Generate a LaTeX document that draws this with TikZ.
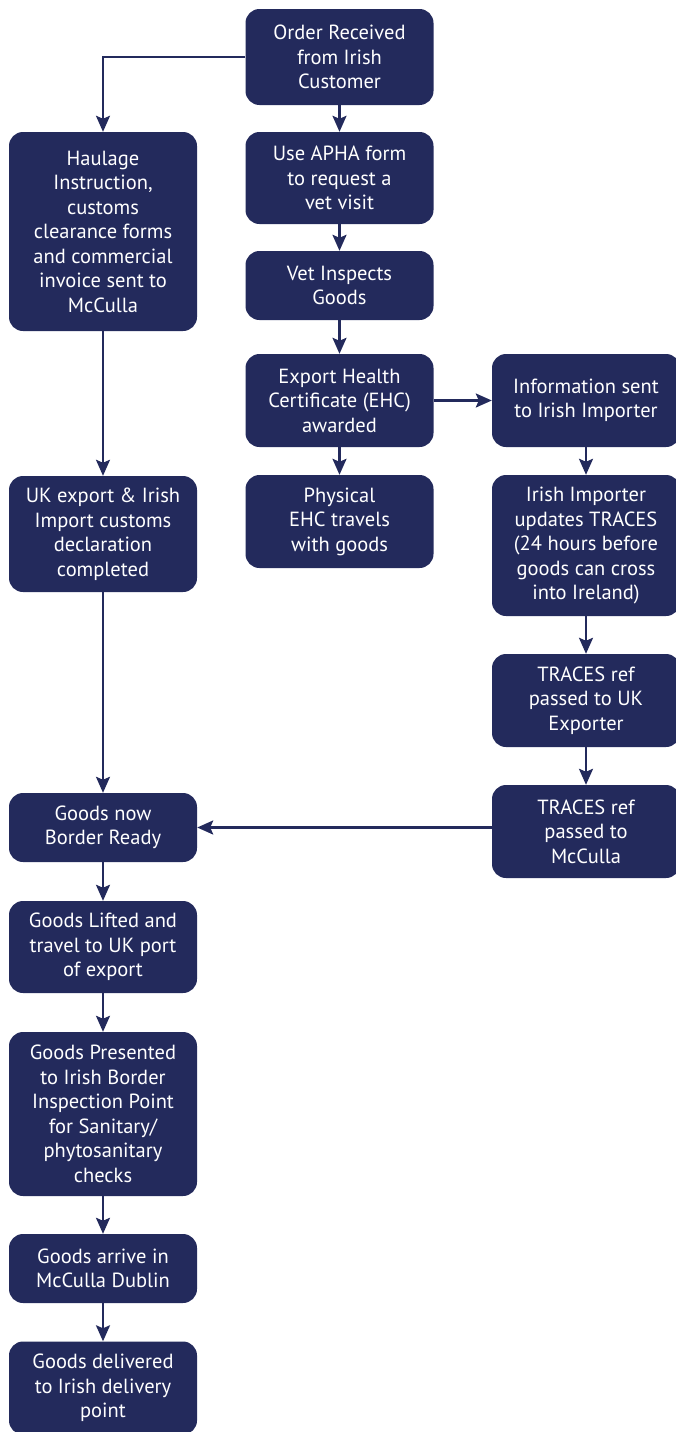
\documentclass[tikz,border=0pt]{standalone}
\usepackage{fontspec}
\setmainfont{PT Sans}
\usepackage{xcolor}
\usetikzlibrary{arrows.meta,positioning,calc}
\definecolor{navy}{HTML}{232A5C}

\begin{document}
\begin{tikzpicture}[x=1pt,y=-1pt,
    box/.style={fill=navy, text=white, rounded corners=14pt, minimum width=188pt,
        align=center, inner sep=0pt, font=\fontsize{20.5}{24.5}\selectfont},
    flow/.style={draw=navy, line width=2.4pt, -{Stealth[length=16pt,width=14pt,inset=3pt]}}]
    \useasboundingbox (0,0) rectangle (676,1432);
    % Middle column
    \node[box, minimum height=96pt] (order) at (339.5,57) {Order Received\\from Irish\\Customer};
    \node[box, minimum height=92pt] (apha) at (339.5,178) {Use APHA form\\to request a\\vet visit};
    \node[box, minimum height=69pt] (vet) at (339.5,285.5) {Vet Inspects\\Goods};
    \node[box, minimum height=93pt] (ehc) at (339.5,400.5) {Export Health\\Certificate (EHC)\\awarded};
    \node[box, minimum height=93pt] (phys) at (339.5,521.5) {Physical\\EHC travels\\with goods};
    % Right column
    \node[box, minimum height=93pt] (info) at (586,400.5) {Information sent\\to Irish Importer};
    \node[box, minimum height=141pt] (imp) at (586,545.5) {Irish Importer\\updates TRACES\\(24 hours before\\goods can cross\\into Ireland)};
    \node[box, minimum height=93pt] (trux) at (586,700.5) {TRACES ref\\passed to UK\\Exporter};
    \node[box, minimum height=93pt] (trmc) at (586,831.5) {TRACES ref\\passed to\\McCulla};
    % Left column
    \node[box, minimum height=199pt] (haul) at (103,231.5) {Haulage\\Instruction,\\customs\\clearance forms\\and commercial\\invoice sent to\\McCulla};
    \node[box, minimum height=116pt] (ukexp) at (103,534) {UK export \& Irish\\Import customs\\declaration\\completed};
    \node[box, minimum height=69pt] (ready) at (103,827.5) {Goods now\\Border Ready};
    \node[box, minimum height=92pt] (lift) at (103,947) {Goods Lifted and\\travel to UK port\\of export};
    \node[box, minimum height=164pt] (bip) at (103,1114) {Goods Presented\\to Irish Border\\Inspection Point\\for Sanitary/\\phytosanitary\\checks};
    \node[box, minimum height=69pt] (dublin) at (103,1268.5) {Goods arrive in\\McCulla Dublin};
    \node[box, minimum height=93pt] (deliv) at (103,1388) {Goods delivered\\to Irish delivery\\point};
    % Arrows
    \draw[flow] (order.west) -| (haul.north);
    \draw[flow] (order) -- (apha);
    \draw[flow] (apha) -- (vet);
    \draw[flow] (vet) -- (ehc);
    \draw[flow] (ehc) -- (phys);
    \draw[flow] (ehc) -- (info);
    \draw[flow] (info) -- (imp);
    \draw[flow] (imp) -- (trux);
    \draw[flow] (trux) -- (trmc);
    \draw[flow] (haul) -- (ukexp);
    \draw[flow] (ukexp) -- (ready);
    \draw[flow] (trmc.west |- ready.east) -- (ready.east);
    \draw[flow] (ready) -- (lift);
    \draw[flow] (lift) -- (bip);
    \draw[flow] (bip) -- (dublin);
    \draw[flow] (dublin) -- (deliv);
\end{tikzpicture}
\end{document}
